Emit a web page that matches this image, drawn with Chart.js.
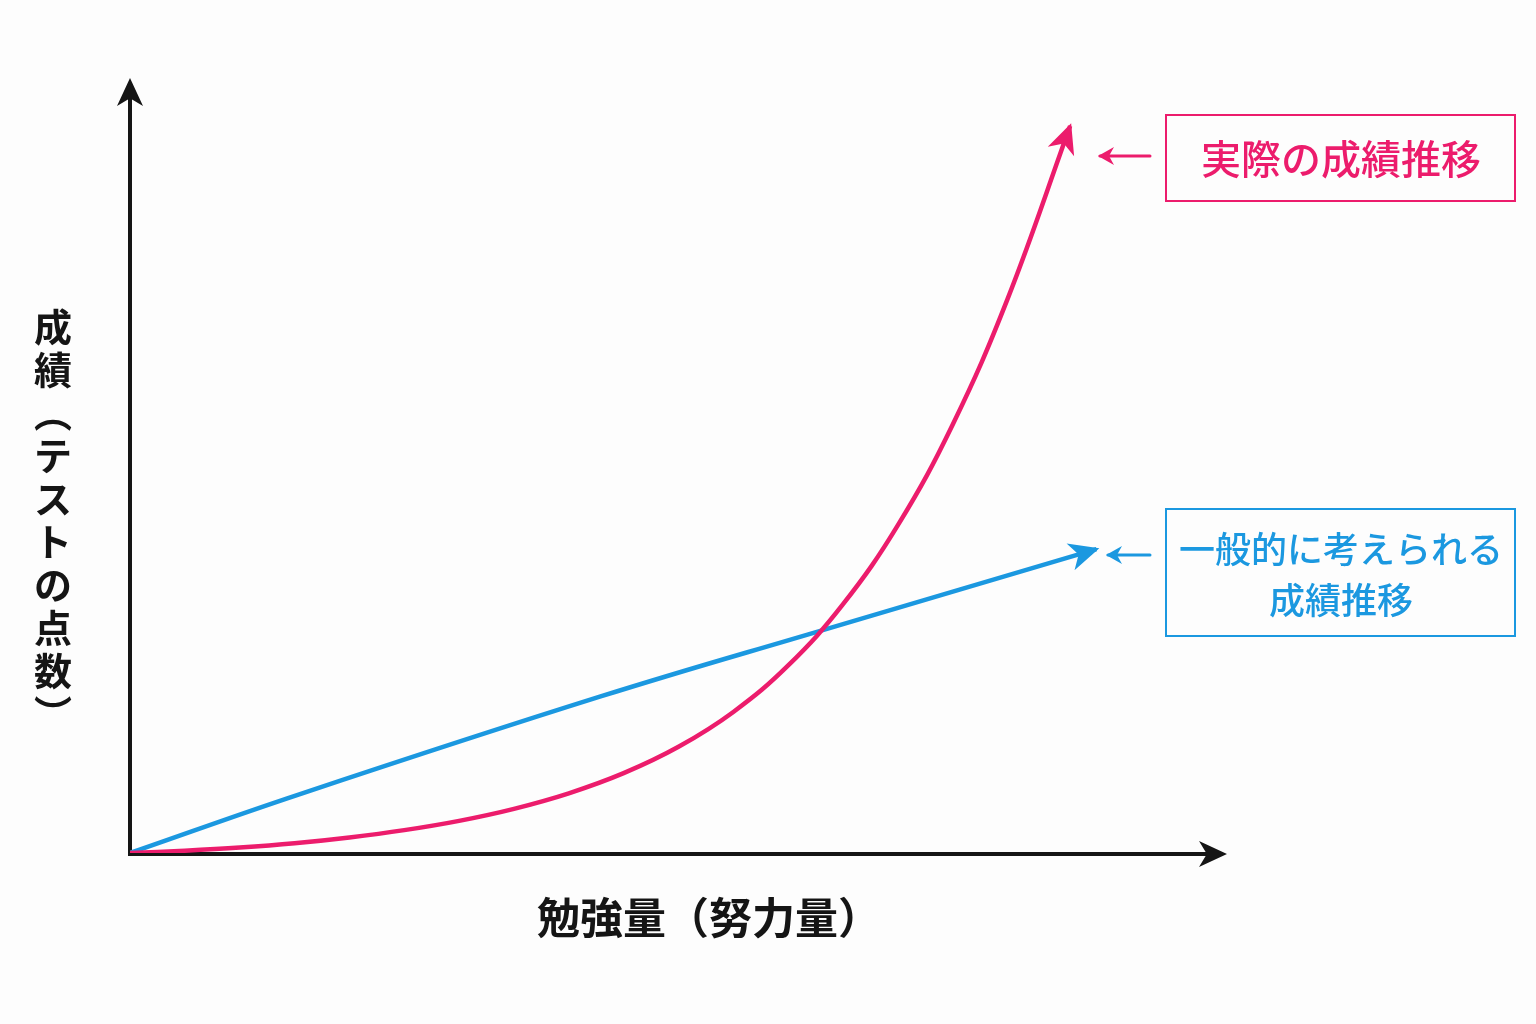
<!DOCTYPE html>
<html lang="ja">
<head>
<meta charset="utf-8">
<title>勉強量と成績</title>
<script src="https://cdn.jsdelivr.net/npm/chart.js@4.4.1/dist/chart.umd.min.js"></script>
<style>
  html, body { margin: 0; padding: 0; background: #fdfdfd; }
  #wrap { width: 1536px; height: 1024px; position: relative; }
</style>
</head>
<body>
<div id="wrap"><canvas id="chart"></canvas></div>
<script>
  // 実際の成績推移 (pink curve)
  const actualEffort = [0, 5, 10, 15, 20, 25, 30, 35, 40, 45, 50, 55, 60, 65, 70, 75, 80, 85.7];
  const actualScore = [0, 0.3, 0.7, 1.25, 2.0, 2.95, 4.15, 5.7, 7.7, 10.3, 13.7, 18.2, 24.2, 32.1, 42.3, 55.3, 71.5, 93.8];

  // 一般的に考えられる成績推移 (blue line)
  const generalEffort = [0, 15.5, 42.9, 63.0, 88.1];
  const generalScore = [0, 7.6, 20.2, 28.7, 39.2];

  const xTitle = "勉強量（努力量）";
  const yTitleChars = ["成", "績", "︵", "テ", "ス", "ト", "の", "点", "数", "︶"];
  const actualLabel = ["実際の成績推移"];
  const generalLabel = ["一般的に考えられる", "成績推移"];

  const PINK = "#ec1c6c";
  const BLUE = "#1b98e0";
  const INK = "#151515";
  const FONT = '"Noto Sans CJK JP", "Noto Sans", sans-serif';

  function toPoints(xs, ys) {
    return xs.map((x, i) => ({ x: x, y: ys[i] }));
  }

  function arrowHead(ctx, tipX, tipY, angle, len, half, color) {
    ctx.save();
    ctx.translate(tipX, tipY);
    ctx.rotate(angle);
    ctx.fillStyle = color;
    ctx.beginPath();
    ctx.moveTo(0, 0);
    ctx.lineTo(-len, -half);
    ctx.lineTo(-len * 0.72, 0);
    ctx.lineTo(-len, half);
    ctx.closePath();
    ctx.fill();
    ctx.restore();
  }

  function smallArrow(ctx, x1, x2, y, color) {
    ctx.save();
    ctx.strokeStyle = color;
    ctx.lineWidth = 3;
    ctx.lineCap = "round";
    ctx.beginPath();
    ctx.moveTo(x2, y);
    ctx.lineTo(x1 + 2, y);
    ctx.stroke();
    ctx.fillStyle = color;
    ctx.beginPath();
    ctx.moveTo(x1, y);
    ctx.lineTo(x1 + 16, y - 9);
    ctx.lineTo(x1 + 11, y);
    ctx.lineTo(x1 + 16, y + 9);
    ctx.closePath();
    ctx.fill();
    ctx.restore();
  }

  const axesPlugin = {
    id: "axesPlugin",
    beforeDatasetsDraw(chart) {
      const ctx = chart.ctx;
      const xs = chart.scales.x;
      const ys = chart.scales.y;
      const ox = xs.getPixelForValue(0);
      const oy = ys.getPixelForValue(0) + 1;
      const top = chart.chartArea.top;
      const right = chart.chartArea.right;
      ctx.save();
      ctx.strokeStyle = INK;
      ctx.lineWidth = 4;
      ctx.beginPath();
      ctx.moveTo(ox, oy + 2);
      ctx.lineTo(ox, top + 20);
      ctx.moveTo(ox - 2, oy);
      ctx.lineTo(right - 20, oy);
      ctx.stroke();
      ctx.restore();
      arrowHead(ctx, ox, top, -Math.PI / 2, 28, 13, INK);
      arrowHead(ctx, right, oy, 0, 28, 13, INK);
    },
    afterDatasetsDraw(chart) {
      const ctx = chart.ctx;
      const colors = [PINK, BLUE];
      chart.data.datasets.forEach(function (ds, i) {
        const pts = chart.getDatasetMeta(i).data;
        const a = pts[pts.length - 2];
        const b = pts[pts.length - 1];
        const ang = Math.atan2(b.y - a.y, b.x - a.x);
        arrowHead(ctx, b.x + Math.cos(ang) * 3, b.y + Math.sin(ang) * 3, ang, 30, 14, colors[i]);
      });
    },
    afterDraw(chart) {
      const ctx = chart.ctx;
      ctx.save();
      ctx.textAlign = "center";
      ctx.textBaseline = "middle";

      // x axis title
      ctx.fillStyle = INK;
      ctx.font = "bold 43px " + FONT;
      ctx.fillText(xTitle, 709, 918);

      // y axis title, upright characters stacked vertically
      ctx.font = "bold 38px " + FONT;
      yTitleChars.forEach(function (ch, i) {
        ctx.fillText(ch, 53, 327 + i * 43);
      });

      // pink annotation
      ctx.strokeStyle = PINK;
      ctx.lineWidth = 2;
      ctx.strokeRect(1166, 115, 349, 86);
      ctx.fillStyle = PINK;
      ctx.font = "500 40px " + FONT;
      ctx.fillText(actualLabel[0], 1341, 159);
      smallArrow(ctx, 1098, 1150, 156, PINK);

      // blue annotation
      ctx.strokeStyle = BLUE;
      ctx.strokeRect(1166, 509, 349, 127);
      ctx.fillStyle = BLUE;
      ctx.font = "500 36px " + FONT;
      ctx.fillText(generalLabel[0], 1341, 549);
      ctx.fillText(generalLabel[1], 1341, 600);
      smallArrow(ctx, 1106, 1150, 555, BLUE);

      ctx.restore();
    }
  };

  new Chart(document.getElementById("chart"), {
    type: "scatter",
    data: {
      datasets: [
        {
          label: "実際の成績推移",
          data: toPoints(actualEffort, actualScore),
          showLine: true,
          borderColor: PINK,
          borderWidth: 4.5,
          pointRadius: 0,
          tension: 0.4
        },
        {
          label: "一般的に考えられる成績推移",
          data: toPoints(generalEffort, generalScore),
          showLine: true,
          borderColor: BLUE,
          borderWidth: 4.5,
          pointRadius: 0,
          tension: 0.4
        }
      ]
    },
    options: {
      responsive: true,
      maintainAspectRatio: false,
      animation: false,
      layout: { padding: { left: 130, right: 309, top: 78, bottom: 171 } },
      plugins: {
        legend: { display: false },
        tooltip: { enabled: false }
      },
      scales: {
        x: { type: "linear", min: 0, max: 100, display: false },
        y: { type: "linear", min: 0, max: 100, display: false }
      }
    },
    plugins: [axesPlugin]
  });
</script>
</body>
</html>
